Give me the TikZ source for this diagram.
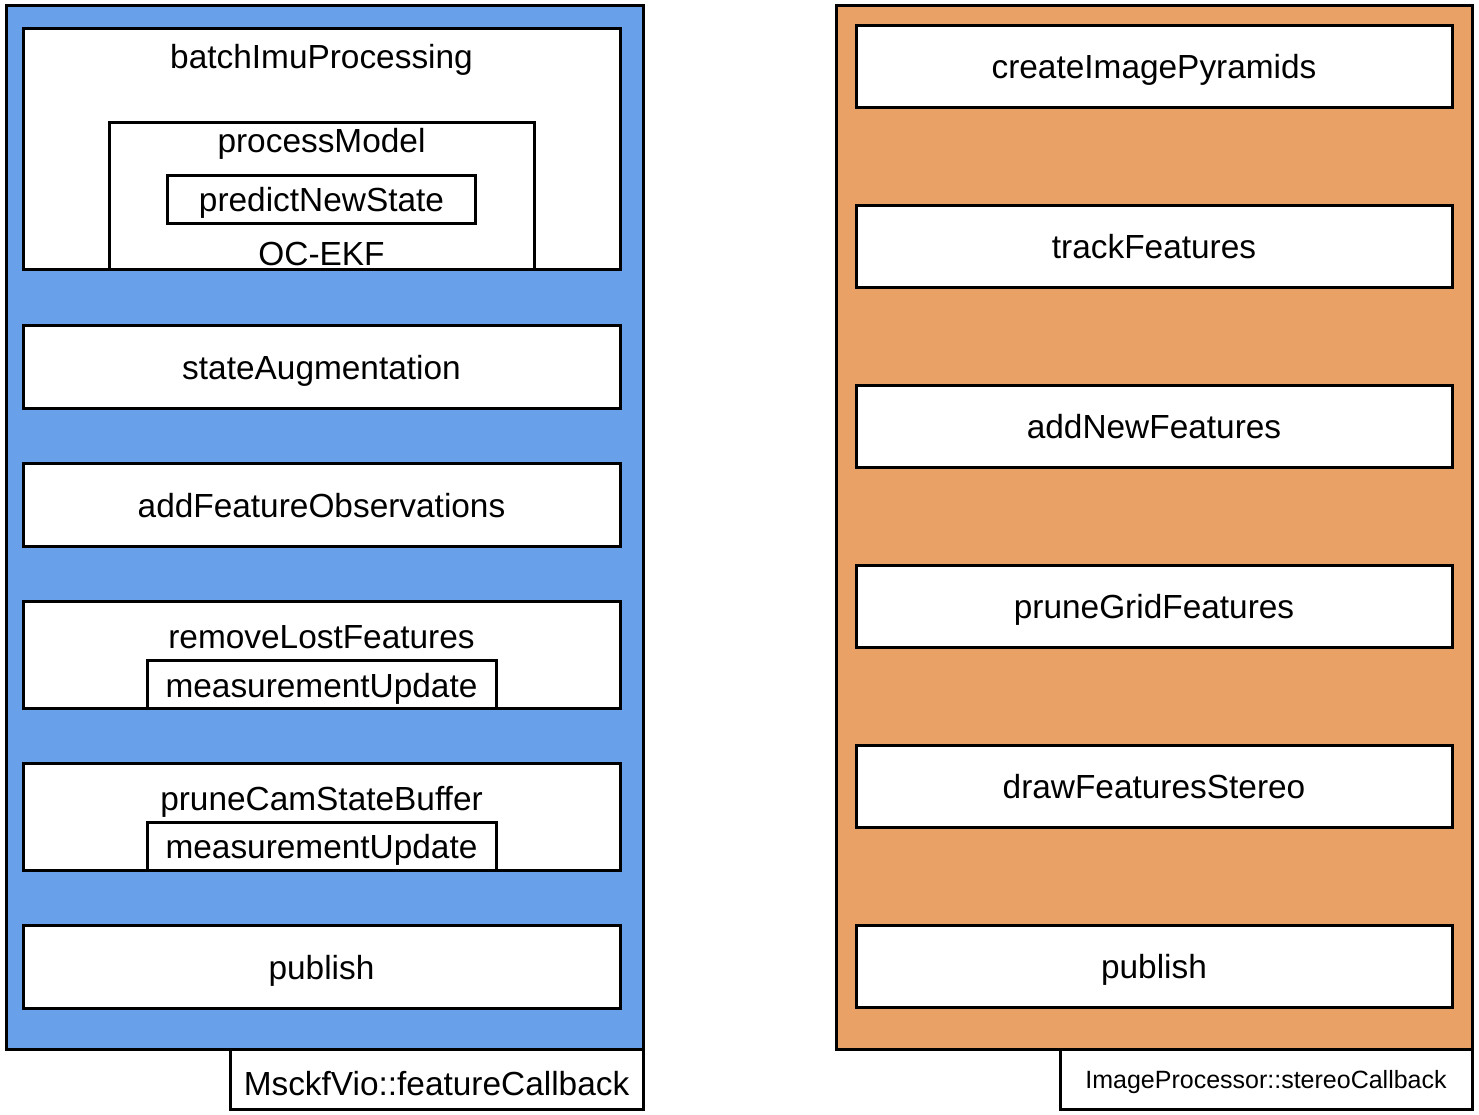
\documentclass[tikz,border=0pt]{standalone}
\usepackage{fontspec}
\setmainfont{Liberation Sans}
\definecolor{panelblue}{RGB}{104,161,234}
\definecolor{panelorange}{RGB}{233,161,101}
% a rectangle node given by its top-left and bottom-right corners
\newcommand\placebox[6]{%
  \node[#1, anchor=north west, minimum width={(#5-#3)*1pt},
        minimum height={(#6-#4)*1pt}] (#2) at (#3,#4) {};}
\begin{document}
\begin{tikzpicture}[x=1pt,y=-1pt,
  panel/.style={draw=black, line width=3pt, inner sep=0pt, outer sep=0pt},
  box/.style={draw=black, line width=3pt, fill=white, inner sep=0pt, outer sep=0pt},
  lbl/.style={font=\fontsize{33.4}{38}\selectfont, anchor=base, inner sep=0pt},
  smalllbl/.style={font=\fontsize{25}{29}\selectfont, anchor=base, inner sep=0pt}]
\useasboundingbox (0,0) rectangle (1479,1114);

% ---- MsckfVio::featureCallback ----
\placebox{panel, fill=panelblue}{vio}{6}{5}{643}{1049}
\placebox{box}{viotag}{230}{1049}{643}{1109}
\node[lbl] (viotagtext) at (436.5,1095) {MsckfVio::featureCallback};

\placebox{box}{batch}{23}{28}{620}{269}
\node[lbl] (batchtext) at (321.5,68) {batchImuProcessing};
\placebox{box}{procmodel}{109}{122}{534}{269}
\node[lbl] (procmodeltext) at (321.5,152) {processModel};
\placebox{box}{predict}{167}{175}{475}{223}
\node[lbl] (predicttext) at (321.5,211) {predictNewState};
\node[lbl] (ocekf) at (321.5,265) {OC-EKF};

\placebox{box}{augment}{23}{325}{620}{408}
\node[lbl] (augmenttext) at (321.5,379) {stateAugmentation};

\placebox{box}{addobs}{23}{463}{620}{546}
\node[lbl] (addobstext) at (321.5,517) {addFeatureObservations};

\placebox{box}{removelost}{23}{601}{620}{708}
\node[lbl] (removelosttext) at (321.5,648) {removeLostFeatures};
\placebox{box}{mupdatea}{147}{660}{496}{708}
\node[lbl] (mupdateatext) at (321.5,697) {measurementUpdate};

\placebox{box}{prunecam}{23}{763}{620}{870}
\node[lbl] (prunecamtext) at (321.5,810) {pruneCamStateBuffer};
\placebox{box}{mupdateb}{147}{822}{496}{870}
\node[lbl] (mupdatebtext) at (321.5,858) {measurementUpdate};

\placebox{box}{publishl}{23}{925}{620}{1008}
\node[lbl] (publishltext) at (321.5,979) {publish};

% ---- ImageProcessor::stereoCallback ----
\placebox{panel, fill=panelorange}{imgproc}{836}{5}{1472}{1049}
\placebox{box}{imgtag}{1060}{1049}{1472}{1109}
\node[smalllbl] (imgtagtext) at (1266,1088) {ImageProcessor::stereoCallback};

\placebox{box}{pyramids}{856}{25}{1452}{107}
\node[lbl] (pyramidstext) at (1154,78) {createImagePyramids};
\placebox{box}{track}{856}{205}{1452}{287}
\node[lbl] (tracktext) at (1154,258) {trackFeatures};
\placebox{box}{addnew}{856}{385}{1452}{467}
\node[lbl] (addnewtext) at (1154,438) {addNewFeatures};
\placebox{box}{prunegrid}{856}{565}{1452}{647}
\node[lbl] (prunegridtext) at (1154,618) {pruneGridFeatures};
\placebox{box}{drawstereo}{856}{745}{1452}{827}
\node[lbl] (drawstereotext) at (1154,798) {drawFeaturesStereo};
\placebox{box}{publishr}{856}{925}{1452}{1007}
\node[lbl] (publishrtext) at (1154,978) {publish};
\end{tikzpicture}
\end{document}
